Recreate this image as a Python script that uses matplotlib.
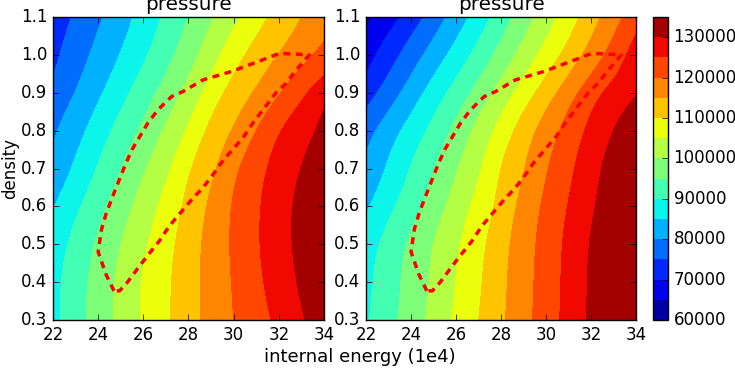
import numpy as np
import matplotlib
matplotlib.use('Agg')
from matplotlib import pyplot as plt
import matplotlib.tri as mtri

plt.style.use('classic')

# grid
energy = [22, 23, 24, 25, 26, 27, 28, 29, 30, 31, 32, 33, 34]          # internal energy (1e4)
density = [0.3, 0.4, 0.5, 0.6, 0.7, 0.8, 0.9, 1.0, 1.1]

# pressure in thousands, rows = density, cols = energy (left panel)
p_left = [
    [88.5, 92.92, 97.25, 101.45, 105.51, 109.19, 113.05, 116.67, 120.0, 122.99, 126.11, 129.49, 132.87],
    [88.43, 92.67, 96.91, 101.14, 105.33, 109.04, 112.98, 116.79, 120.35, 123.85, 127.28, 130.68, 134.08],
    [87.2, 91.44, 95.68, 99.92, 104.15, 108.28, 112.52, 116.72, 120.67, 124.4, 127.92, 131.39, 134.6],
    [84.7, 88.94, 93.38, 97.71, 102.07, 106.64, 111.3, 115.91, 120.39, 124.26, 127.83, 131.33, 134.6],
    [81.35, 85.86, 90.36, 94.91, 99.41, 103.92, 109.32, 113.93, 118.73, 123.14, 126.83, 130.1, 133.37],
    [79.21, 83.15, 87.39, 91.78, 96.08, 100.64, 105.71, 111.19, 115.45, 120.0, 124.55, 128.0, 131.33],
    [76.16, 80.16, 84.16, 88.35, 92.58, 96.94, 101.7, 107.16, 111.85, 115.6, 119.6, 123.81, 128.05],
    [73.86, 77.65, 81.43, 85.2, 89.2, 93.39, 97.9, 102.89, 107.86, 111.82, 115.13, 118.38, 121.62],
    [72.11, 75.68, 79.25, 82.97, 86.84, 90.89, 95.13, 99.56, 103.75, 108.04, 111.77, 115.0, 118.2],
]

# right panel
p_right = [
    [89.41, 93.35, 97.38, 101.54, 105.8, 110.0, 114.2, 118.35, 122.5, 126.67, 130.83, 133.6, 134.7],
    [88.8, 92.8, 96.8, 100.85, 105.08, 109.29, 113.77, 118.04, 122.25, 126.46, 130.63, 133.5, 134.7],
    [87.5, 91.67, 95.83, 100.0, 104.17, 108.48, 113.1, 117.63, 121.93, 126.13, 130.29, 133.3, 134.6],
    [84.35, 88.7, 93.04, 97.5, 102.1, 106.76, 111.58, 116.58, 121.01, 125.2, 129.3, 132.6, 134.5],
    [81.14, 85.68, 90.23, 94.77, 99.52, 104.29, 110.0, 114.76, 119.52, 123.91, 128.0, 132.0, 134.4],
    [77.95, 82.5, 86.96, 91.43, 96.32, 101.5, 106.76, 112.25, 117.14, 121.82, 126.15, 130.0, 133.85],
    [72.62, 77.38, 82.25, 87.14, 91.9, 96.84, 102.0, 107.22, 112.5, 117.72, 122.74, 126.6, 129.69],
    [67.86, 72.62, 77.38, 82.14, 86.9, 91.75, 96.8, 101.9, 106.88, 111.91, 117.04, 122.1, 127.1],
    [63.75, 67.92, 72.38, 77.25, 82.23, 87.29, 92.53, 97.68, 102.65, 107.6, 112.83, 117.94, 122.84],
]

# red dashed boundary (energy, density)
edge_e = [24.7, 24.35, 24.0, 24.15, 24.35, 24.6, 24.9, 25.2, 25.5, 25.85, 26.2, 26.65,
          27.25, 27.75, 28.64, 29.9, 31.29, 32.03, 32.77, 33.35,
          32.77, 32.32, 31.88, 31.3, 30.85, 30.4, 29.95, 29.45, 29.1, 28.65, 28.1,
          27.6, 27.15, 26.7, 26.2, 25.75, 25.3, 24.95, 24.7]
edge_rho = [0.377, 0.42, 0.48, 0.54, 0.58, 0.62, 0.665, 0.71, 0.75, 0.785, 0.82, 0.855,
            0.89, 0.903, 0.934, 0.956, 0.987, 1.004, 1.002, 1.0,
            0.96, 0.925, 0.9, 0.855, 0.82, 0.78, 0.75, 0.715, 0.685, 0.65, 0.615,
            0.58, 0.548, 0.508, 0.471, 0.436, 0.40, 0.377, 0.377]

levels = np.arange(60000, 135001, 5000)
E, R = np.meshgrid(energy, density)

# triangulate the grid so matplotlib can smooth the field (cubic) before contouring
ny, nx = E.shape
tris = []
for j in range(ny - 1):
    for i in range(nx - 1):
        k = j * nx + i
        tris.append([k, k + 1, k + nx + 1])
        tris.append([k, k + nx + 1, k + nx])
tri = mtri.Triangulation(E.ravel(), R.ravel(), tris)
refiner = mtri.UniformTriRefiner(tri)

fig = plt.figure(figsize=(7.35, 3.78), dpi=100)
ax1 = fig.add_axes([0.0721, 0.1534, 0.3687, 0.8016])
ax2 = fig.add_axes([0.4980, 0.1534, 0.3673, 0.8016])
cax = fig.add_axes([0.8885, 0.1534, 0.0204, 0.8016])

for ax, p in [(ax1, p_left), (ax2, p_right)]:
    z = np.array(p).ravel() * 1000
    interp = mtri.CubicTriInterpolator(tri, z, kind='min_E')
    tri_f, z_f = refiner.refine_field(z, triinterpolator=interp, subdiv=3)
    z_f = np.clip(z_f, levels[0] + 1, levels[-1] - 1)
    cs = ax.tricontourf(tri_f, z_f, levels=levels, cmap='jet')
    ax.plot(edge_e, edge_rho, 'r--', lw=2.5, dashes=(5, 4))
    ax.set_xlim(22, 34)
    ax.set_ylim(0.3, 1.1)
    ax.set_xticks([22, 24, 26, 28, 30, 32, 34])
    ax.set_yticks([0.3, 0.4, 0.5, 0.6, 0.7, 0.8, 0.9, 1.0, 1.1])
    ax.set_title('pressure')

ax1.set_ylabel('density', labelpad=1)
fig.text(0.49, 0.033, 'internal energy (1e4)', ha='center', va='bottom', fontsize=13)

cb = fig.colorbar(cs, cax=cax, ticks=np.arange(60000, 130001, 10000))

fig.savefig('out.png', dpi=100, facecolor='white')
